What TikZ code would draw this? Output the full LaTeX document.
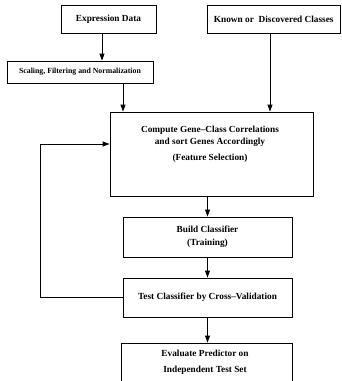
\documentclass[tikz,border=0pt]{standalone}
\usepackage{fontspec}
\setmainfont{Liberation Serif}
\usetikzlibrary{arrows.meta}
\tikzset{
  box/.style={draw, line width=0.8pt, inner sep=0pt, align=center},
  arr/.style={line width=0.8pt, -{Triangle[length=7pt,width=5pt]}},
}
\begin{document}
\begin{tikzpicture}[x=1pt, y=-1pt, font=\fontsize{9.3}{11}\selectfont\bfseries]
    \useasboundingbox (0,0) rectangle (341,381);
    \node[box, minimum width=95pt, minimum height=28pt] (expr) at (108.5,19) {Expression Data};
    \node[box, minimum width=133.5pt, minimum height=28pt] (known) at (273.75,19) {Known or~ Discovered Classes};
    \node[box, minimum width=146pt, minimum height=22pt, font=\fontsize{7.8}{9}\selectfont\bfseries] (scale) at (80,72) {Scaling, Filtering and Normalization};
    \node[box, minimum width=203pt, minimum height=84pt] (corr) at (211.5,154) {};
    \node[align=center] (corrtext) at (210,144.5) {Compute Gene--Class Correlations\\[1.5pt]and sort Genes Accordingly\\[5pt](Feature Selection)};
    \node[box, minimum width=169pt, minimum height=40pt] (build) at (207.5,237) {Build Classifier\\[2pt](Training)};
    \node[box, minimum width=169pt, minimum height=39pt] (test) at (207.5,297.5) {Test Classifier by Cross--Validation};
    \node[box, minimum width=171pt, minimum height=60pt] (eval) at (206.5,373) {};
    \node[align=center] (evaltext) at (205,362) {Evaluate Predictor on\\[5pt]Independent Test Set};
    \coordinate (a1) at ([xshift=-6.5pt]expr.south);
    \coordinate (a2) at ([xshift=43pt]scale.south);
    \coordinate (a3) at ([xshift=-3.75pt]known.south);
    \coordinate (fb) at (40,144);
    \draw[arr] (a1) -- (a1 |- scale.north);
    \draw[arr] (a2) -- (a2 |- corr.north);
    \draw[arr] (a3) -- (a3 |- corr.north);
    \draw[arr] (build.north |- corr.south) -- (build.north);
    \draw[arr] (build) -- (test);
    \draw[arr] (test.south) -- (test.south |- eval.north);
    \draw[arr] (test.west) -| (fb) -- (fb -| corr.west);
\end{tikzpicture}
\end{document}
